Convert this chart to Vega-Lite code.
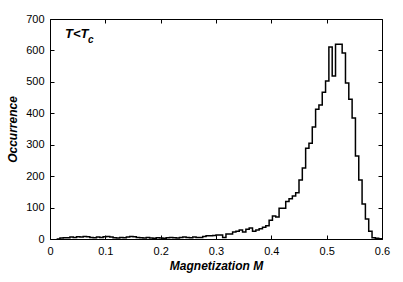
{
  "$schema": "https://vega.github.io/schema/vega-lite/v6.json",
  "width": 332,
  "height": 220,
  "autosize": "none",
  "padding": {"left": 50, "top": 19, "right": 21, "bottom": 43},
  "background": "white",
  "config": {
    "font": "Liberation Sans",
    "view": {"stroke": "black", "strokeWidth": 1},
    "axis": {
      "grid": false,
      "domain": false,
      "tickColor": "black",
      "tickSize": -4,
      "labelColor": "black",
      "labelFontSize": 11,
      "labelFlush": false,
      "titleColor": "black",
      "titleFontSize": 12,
      "titleFontStyle": "italic",
      "titleFontWeight": "bold"
    }
  },
  "layer": [
    {
      "data": {"values": [
        {"m": 0.012, "n": 0}, {"m": 0.018, "n": 3}, {"m": 0.024, "n": 4}, {"m": 0.030, "n": 4}, {"m": 0.036, "n": 6},
        {"m": 0.042, "n": 5}, {"m": 0.048, "n": 7}, {"m": 0.054, "n": 6}, {"m": 0.060, "n": 8}, {"m": 0.066, "n": 7},
        {"m": 0.072, "n": 5}, {"m": 0.078, "n": 4}, {"m": 0.084, "n": 6}, {"m": 0.090, "n": 5}, {"m": 0.096, "n": 7},
        {"m": 0.102, "n": 8}, {"m": 0.108, "n": 6}, {"m": 0.114, "n": 4}, {"m": 0.120, "n": 3}, {"m": 0.126, "n": 5},
        {"m": 0.132, "n": 4}, {"m": 0.138, "n": 6}, {"m": 0.144, "n": 8}, {"m": 0.150, "n": 7}, {"m": 0.156, "n": 5},
        {"m": 0.162, "n": 4}, {"m": 0.168, "n": 3}, {"m": 0.174, "n": 5}, {"m": 0.180, "n": 3}, {"m": 0.186, "n": 2},
        {"m": 0.192, "n": 4}, {"m": 0.198, "n": 3}, {"m": 0.204, "n": 2}, {"m": 0.210, "n": 4}, {"m": 0.216, "n": 5},
        {"m": 0.222, "n": 4}, {"m": 0.228, "n": 3}, {"m": 0.234, "n": 5}, {"m": 0.240, "n": 6}, {"m": 0.246, "n": 5},
        {"m": 0.252, "n": 4}, {"m": 0.258, "n": 6}, {"m": 0.264, "n": 5}, {"m": 0.270, "n": 5}, {"m": 0.276, "n": 8},
        {"m": 0.282, "n": 10}, {"m": 0.288, "n": 10}, {"m": 0.294, "n": 11}, {"m": 0.300, "n": 13}, {"m": 0.306, "n": 13},
        {"m": 0.312, "n": 5}, {"m": 0.318, "n": 16}, {"m": 0.324, "n": 16}, {"m": 0.330, "n": 22}, {"m": 0.336, "n": 25},
        {"m": 0.342, "n": 29}, {"m": 0.348, "n": 22}, {"m": 0.354, "n": 31}, {"m": 0.360, "n": 35}, {"m": 0.366, "n": 25},
        {"m": 0.372, "n": 29}, {"m": 0.378, "n": 33}, {"m": 0.384, "n": 37}, {"m": 0.390, "n": 42}, {"m": 0.396, "n": 60},
        {"m": 0.402, "n": 73}, {"m": 0.408, "n": 70}, {"m": 0.414, "n": 98}, {"m": 0.420, "n": 98}, {"m": 0.426, "n": 119},
        {"m": 0.432, "n": 128}, {"m": 0.438, "n": 137}, {"m": 0.444, "n": 147}, {"m": 0.450, "n": 188}, {"m": 0.456, "n": 226},
        {"m": 0.462, "n": 289}, {"m": 0.468, "n": 305}, {"m": 0.474, "n": 356}, {"m": 0.480, "n": 413}, {"m": 0.486, "n": 426},
        {"m": 0.492, "n": 467}, {"m": 0.498, "n": 503}, {"m": 0.504, "n": 611}, {"m": 0.510, "n": 519}, {"m": 0.516, "n": 620},
        {"m": 0.522, "n": 620}, {"m": 0.528, "n": 592}, {"m": 0.534, "n": 496}, {"m": 0.540, "n": 445}, {"m": 0.546, "n": 385},
        {"m": 0.552, "n": 264}, {"m": 0.558, "n": 188}, {"m": 0.564, "n": 111}, {"m": 0.570, "n": 64}, {"m": 0.576, "n": 25},
        {"m": 0.582, "n": 4}, {"m": 0.588, "n": 2}, {"m": 0.594, "n": 1}, {"m": 0.600, "n": 0}
      ]},
      "mark": {"type": "line", "interpolate": "step-after", "color": "black", "strokeWidth": 1.5, "clip": true},
      "encoding": {
        "x": {
          "field": "m", "type": "quantitative",
          "scale": {"domain": [0, 0.6], "nice": false, "zero": false},
          "axis": {"orient": "bottom", "values": [0, 0.1, 0.2, 0.3, 0.4, 0.5, 0.6], "format": "~g", "title": "Magnetization M", "labelPadding": 10, "titlePadding": 4}
        },
        "y": {
          "field": "n", "type": "quantitative",
          "scale": {"domain": [0, 700], "nice": false},
          "axis": {"orient": "left", "values": [0, 100, 200, 300, 400, 500, 600, 700], "title": "Occurrence", "labelPadding": 10, "titlePadding": 6}
        }
      }
    },
    {
      "data": {"values": [{"x": 0.027, "y": 638, "label": "T<T"}]},
      "mark": {"type": "text", "align": "left", "baseline": "alphabetic", "fontSize": 13, "fontStyle": "italic", "fontWeight": "bold", "color": "black"},
      "encoding": {
        "x": {"field": "x", "type": "quantitative", "axis": {"orient": "top", "values": [0, 0.1, 0.2, 0.3, 0.4, 0.5, 0.6], "labels": false, "title": null}},
        "y": {"field": "y", "type": "quantitative", "axis": {"orient": "right", "values": [0, 100, 200, 300, 400, 500, 600, 700], "labels": false, "title": null}},
        "text": {"field": "label"}
      }
    },
    {
      "data": {"values": [{"x": 0.0685, "y": 623, "label": "c"}]},
      "mark": {"type": "text", "align": "left", "baseline": "alphabetic", "fontSize": 10, "fontStyle": "italic", "fontWeight": "bold", "color": "black"},
      "encoding": {
        "x": {"field": "x", "type": "quantitative", "axis": null},
        "y": {"field": "y", "type": "quantitative", "axis": null},
        "text": {"field": "label"}
      }
    }
  ],
  "resolve": {"axis": {"x": "independent", "y": "independent"}}
}
